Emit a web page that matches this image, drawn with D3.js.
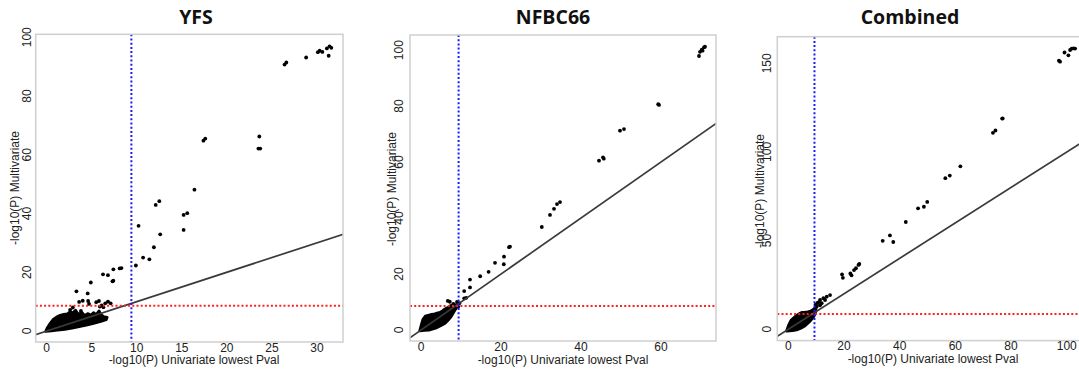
<!DOCTYPE html>
<html><head><meta charset="utf-8">
<script src="https://cdn.jsdelivr.net/npm/d3@7"></script>
<style>body{margin:0;background:#fff}svg{display:block}</style>
</head><body>
<svg id="c" width="1079" height="371"></svg>
<script>
// ---------- DATA ----------
const titles = ["YFS", "NFBC66", "Combined"];
const xAxisTitle = "-log10(P) Univariate lowest Pval";
const yAxisTitle = "-log10(P) Multivariate";
const thresholdX = 9.4;   // blue dotted line
const thresholdY = 8.55;  // red dotted line

const yfsXTicks = [0, 5, 10, 15, 20, 25, 30];
const yfsYTicks = [0, 20, 40, 60, 80, 100];
const nfbcXTicks = [0, 20, 40, 60];
const nfbcYTicks = [0, 20, 40, 60, 80, 100];
const combXTicks = [0, 20, 40, 60, 80, 100];
const combYTicks = [0, 50, 100, 150];

const yfsX = [26.4,26.6,28.8,30.1,30.3,30.6,31.1,31.4,31.6,31.3,17.4,17.6,23.6,23.5,23.7,16.4,15.2,15.6,15.2,12.1,12.5,12.6,11.9,10.2,10.7,11.4,9.9,8.1,8.3,7.4,6.25,6.8,7.3,7.4,4.9,3.3,4.55,3.6,4.0,4.6,4.7,5.5,5.8,6.5,6.1,6.8,7.1,3.8,2.6,2.9,5.9,6.3];
const yfsY = [90.7,91.4,93.1,94.9,95.4,95.0,96.2,96.9,96.4,93.7,64.8,65.5,66.2,62.1,62.1,48.1,39.5,40.1,34.4,42.9,44.2,32.9,28.5,35.8,25.0,24.4,22.3,21.3,21.4,21.0,19.3,19.0,16.9,17.1,16.5,13.5,12.8,9.9,10.3,10.2,9.2,9.8,10.2,9.4,8.7,10.0,9.4,6.8,7.2,8.0,8.3,8.1];
const yfsBlobX = [-0.1,0.5,1.2,2.0,2.8,3.6,4.4,5.2,6.0,6.6,6.7,6.3,6.0,5.8,5.5,5.2,4.9,4.6,4.2,3.9,3.5,3.2,2.9,2.6,2.3,1.9,1.5,1.1,0.7,0.4,0.1];
const yfsBlobY = [-0.1,0.1,0.3,0.6,1.0,1.5,2.0,2.6,3.3,3.9,4.6,4.9,5.6,6.8,5.5,6.2,5.3,5.9,5.2,6.3,5.6,7.0,6.1,6.5,5.8,5.6,5.3,4.7,3.8,2.6,1.2];

const nfbcX = [69.5,69.75,70.2,70.75,70.4,71.0,59.3,59.5,49.75,50.75,44.5,45.5,45.7,34.75,34.0,33.25,32.25,30.2,22.25,22.0,20.75,20.7,18.5,16.9,14.8,12.25,12.25,10.8,10.8,11.3,6.7,7.2,8.1,8.8,9.3,8.5,9.6,9.0];
const nfbcY = [97.9,99.4,100.2,101.0,99.8,101.2,80.7,80.4,71.2,71.8,60.5,61.7,61.2,45.7,45.0,43.3,41.1,36.8,29.8,29.6,26.2,23.5,24.0,20.8,19.2,18.0,15.2,13.9,11.3,11.5,10.4,10.1,9.3,8.9,8.3,7.7,9.6,10.0];
const nfbcBlobX = [-0.3,0.8,2.0,3.0,4.0,5.0,6.0,6.8,7.4,8.0,8.6,9.0,8.4,7.8,7.2,6.6,6.0,5.4,4.8,4.0,3.2,2.5,1.8,1.1,0.5,0.1];
const nfbcBlobY = [-0.3,-0.1,0.0,0.4,0.9,1.6,2.4,3.6,4.6,6.0,7.4,8.6,8.8,8.9,8.5,7.9,7.5,6.8,6.3,6.0,5.6,5.5,5.2,4.9,3.8,1.8];

const combX = [97.2,97.6,99.2,100.6,101.2,101.8,102.4,103.0,76.8,77.0,73.5,74.4,61.8,58.0,56.4,49.9,48.7,46.6,42.2,36.5,33.9,37.7,25.5,25.2,24.3,23.6,22.7,22.3,19.3,19.6,15.0,13.8,12.6,11.4,10.8,12.0,13.2,10.2,11.4,9.8,9.4,10.5];
const combY = [151.5,150.9,156.1,154.5,157.5,158.3,158.4,158.3,118.8,118.9,110.8,112.1,91.9,86.7,85.2,71.8,69.1,68.2,60.5,52.9,49.9,49.2,36.8,36.3,34.4,33.4,30.4,31.5,30.9,29.0,19.3,18.4,17.5,16.5,15.2,14.7,16.5,12.7,13.5,13.9,11.5,14.8];
const combBlobX = [-0.6,1.5,3.0,4.5,6.0,7.4,8.4,9.2,9.7,9.9,9.0,8.0,7.0,6.0,5.0,4.0,3.0,2.0,1.0,0.2];
const combBlobY = [-1.0,-0.7,-0.3,0.6,2.0,4.0,5.8,7.4,9.2,11.2,11.2,10.2,9.8,9.6,9.5,8.8,7.8,6.4,5.0,2.5];

// ---------- LAYOUT ----------
const layout = [
  {box:[35.7,343,34.3,342], xDom:[-1.22,32.89], yDom:[-3.75,101.0], titleX:196, xTickY:348, xTitleX:194, xTitleY:360, yTickX:26.7, yTitleX:15, yTitleY:188},
  {box:[410,716,35,341], xDom:[-2.75,73.75], yDom:[-3.93,105.4], titleX:553, xTickY:347, xTitleX:563, xTitleY:359.5, yTickX:398.5, yTitleX:391.7, yTitleY:189},
  {box:[777.3,1086.5,36.7,340.6], xDom:[-3.95,107.1], yDom:[-6.4,165.0], titleX:910, xTickY:345.6, xTitleX:933, xTitleY:359, yTickX:766.7, yTitleX:759.3, yTitleY:191}
];
const series = [
  {xt:yfsXTicks, yt:yfsYTicks, px:yfsX, py:yfsY, bx:yfsBlobX, by:yfsBlobY},
  {xt:nfbcXTicks, yt:nfbcYTicks, px:nfbcX, py:nfbcY, bx:nfbcBlobX, by:nfbcBlobY},
  {xt:combXTicks, yt:combYTicks, px:combX, py:combY, bx:combBlobX, by:combBlobY}
];

const svg = d3.select("#c");
const tickFont = "'Liberation Sans', Arial, sans-serif";

series.forEach((s, i) => {
  const L = layout[i];
  const [bx0, bx1, by0, by1] = L.box;
  const x = d3.scaleLinear().domain(L.xDom).range([bx0, bx1]);
  const y = d3.scaleLinear().domain(L.yDom).range([by1, by0]);
  const g = svg.append("g");

  const clipId = "clip" + i;
  svg.append("defs").append("clipPath").attr("id", clipId)
    .append("rect").attr("x", bx0).attr("y", by0).attr("width", bx1 - bx0).attr("height", by1 - by0);

  // title
  g.append("text").attr("x", L.titleX).attr("y", 24).attr("text-anchor", "middle")
    .style("font-family", "'Open Sans', sans-serif").style("font-weight", 700)
    .style("font-size", "19.5px").attr("fill", "#111").text(titles[i]);

  const plot = g.append("g").attr("clip-path", `url(#${clipId})`);

  // dense blob
  const blob = s.bx.map((v, k) => [x(v), y(s.by[k])]);
  plot.append("path").attr("d", d3.line().curve(d3.curveLinearClosed)(blob))
    .attr("fill", "#000").attr("stroke", "#000").attr("stroke-width", 3).attr("stroke-linejoin", "round");

  // points
  plot.selectAll("circle.pt").data(s.px.map((v, k) => [v, s.py[k]])).enter()
    .append("circle").attr("class", "pt")
    .attr("cx", d => x(d[0])).attr("cy", d => y(d[1])).attr("r", 1.9).attr("fill", "#000");

  // y = x line
  const lo = Math.min(L.xDom[0], L.yDom[0]) - 10, hi = Math.max(L.xDom[1], L.yDom[1]) + 10;
  plot.append("line").attr("x1", x(lo)).attr("y1", y(lo)).attr("x2", x(hi)).attr("y2", y(hi))
    .attr("stroke", "#3a3a3a").attr("stroke-width", 1.7);

  // threshold lines
  plot.append("line").attr("x1", bx0).attr("x2", bx1).attr("y1", y(thresholdY)).attr("y2", y(thresholdY))
    .attr("stroke", "#ff2020").attr("stroke-width", 2).attr("stroke-dasharray", "2,2.2");
  plot.append("line").attr("x1", x(thresholdX)).attr("x2", x(thresholdX)).attr("y1", by0).attr("y2", by1)
    .attr("stroke", "#1a1aff").attr("stroke-width", 2).attr("stroke-dasharray", "2,2.2");

  // box
  g.append("rect").attr("x", bx0).attr("y", by0).attr("width", bx1 - bx0).attr("height", by1 - by0)
    .attr("fill", "none").attr("stroke", "#cfcfcf").attr("stroke-width", 1.5);

  // x tick labels
  g.selectAll("text.xt").data(s.xt).enter().append("text").attr("class", "xt")
    .attr("x", d => x(d)).attr("y", L.xTickY).attr("dy", "0.35em").attr("text-anchor", "middle")
    .style("font-family", tickFont).style("font-size", "12px").attr("fill", "#222").text(d => d);
  // y tick labels (rotated)
  g.selectAll("text.yt").data(s.yt).enter().append("text").attr("class", "yt")
    .attr("transform", d => `translate(${L.yTickX},${y(d)}) rotate(-90)`)
    .attr("dy", "0.35em").attr("text-anchor", "middle")
    .style("font-family", tickFont).style("font-size", "12px").attr("fill", "#222").text(d => d);

  // axis titles
  g.append("text").attr("x", L.xTitleX).attr("y", L.xTitleY).attr("dy", "0.35em").attr("text-anchor", "middle")
    .style("font-family", tickFont).style("font-size", "12px").attr("fill", "#222").text(xAxisTitle);
  g.append("text").attr("transform", `translate(${L.yTitleX},${L.yTitleY}) rotate(-90)`)
    .attr("dy", "0.35em").attr("text-anchor", "middle")
    .style("font-family", tickFont).style("font-size", "12px").attr("fill", "#222").text(yAxisTitle);
});
</script>
</body></html>
